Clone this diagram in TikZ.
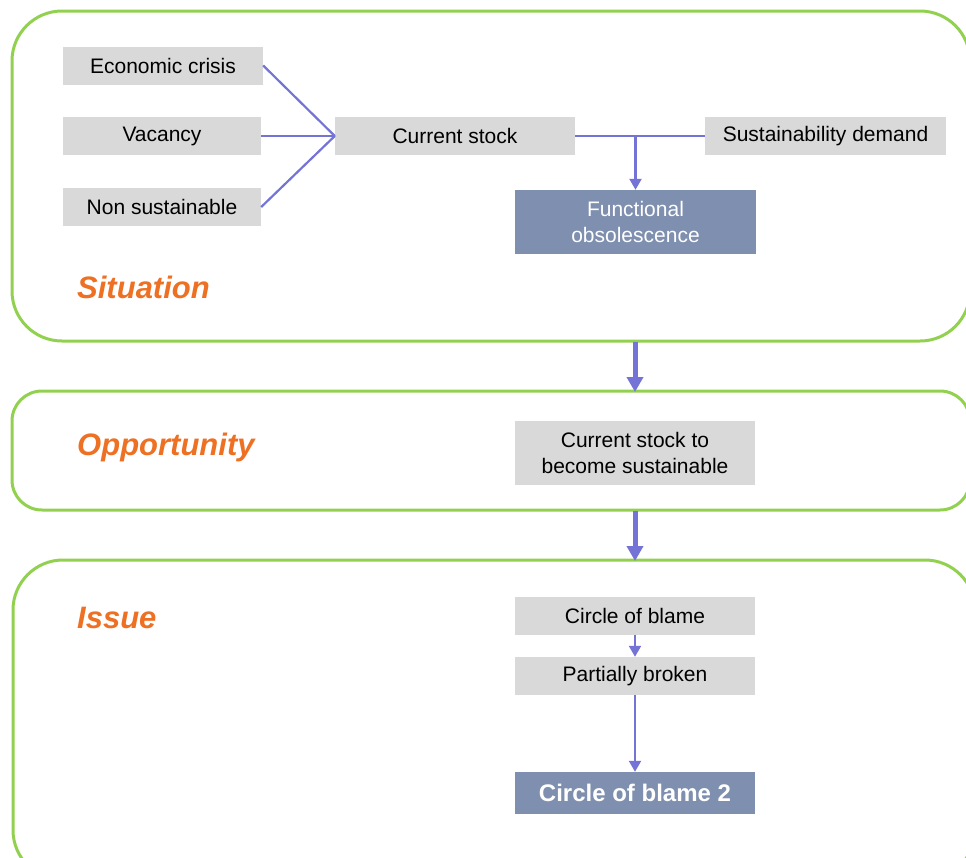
\documentclass[tikz,border=0pt]{standalone}
\usepackage{fontspec}
\setmainfont{Liberation Sans}
\usetikzlibrary{arrows.meta}
\definecolor{frame}{HTML}{92D050}
\definecolor{link}{HTML}{7474D6}
\definecolor{boxgray}{HTML}{D9D9D9}
\definecolor{boxblue}{HTML}{7F8FAF}
\definecolor{phase}{HTML}{EE7022}
\tikzset{
  panel/.style={draw=frame, line width=3pt, rounded corners=#1},
  graybox/.style={fill=boxgray, inner sep=0pt, align=center, text=black,
    font=\fontsize{21}{26}\selectfont},
  bluebox/.style={fill=boxblue, inner sep=0pt, align=center, text=white,
    font=\fontsize{21}{26}\selectfont},
  phaselabel/.style={anchor=west, text=phase, inner sep=0pt,
    font=\fontsize{31}{35}\selectfont\bfseries\itshape},
  thin link/.style={draw=link, line width=2.2pt},
  thin arrow/.style={thin link, -{Triangle[length=11pt,width=12pt]}},
  big arrow/.style={draw=link, line width=5pt, -{Triangle[length=15pt,width=16pt]}},
}
\begin{document}
\begin{tikzpicture}[x=1pt,y=-1pt]
\useasboundingbox (0,0) rectangle (966,857);
\clip (0,0) rectangle (966,857);

% phase panels
\draw[panel=50pt] (12,11) rectangle (970,341);
\draw[panel=30pt] (12,391) rectangle (970,510);
\draw[panel=50pt] (13,560) rectangle (975,880);

% phase titles
\node[phaselabel] (situation) at (77,287) {Situation};
\node[phaselabel] (opportunity) at (77,447) {Opportunity};
\node[phaselabel] (issue) at (77,618) {Issue};

% situation boxes
\node[graybox, minimum width=200pt, minimum height=38pt] (crisis) at (163,65.5) {Economic crisis};
\node[graybox, minimum width=198pt, minimum height=38pt] (vacancy) at (162,136) {Vacancy};
\node[graybox, minimum width=198pt, minimum height=38pt] (nonsust) at (162,207) {Non sustainable};
\node[graybox, minimum width=240pt, minimum height=38pt] (stock) at (455,136) {Current stock};
\node[graybox, minimum width=241pt, minimum height=38pt] (demand) at (825.5,136) {Sustainability demand};
\node[bluebox, minimum width=241pt, minimum height=64pt] (obsolete) at (635.5,222) {Functional\\obsolescence};

% opportunity box
\node[graybox, minimum width=240pt, minimum height=64pt] (tosust) at (635,453) {Current stock to\\become sustainable};

% issue boxes
\node[graybox, minimum width=240pt, minimum height=38pt] (blame) at (635,615.5) {Circle of blame};
\node[graybox, minimum width=240pt, minimum height=38pt] (broken) at (635,676) {Partially broken};
\node[bluebox, minimum width=240pt, minimum height=42pt,
      font=\fontsize{24}{28}\selectfont\bfseries] (blame2) at (635,793) {Circle of blame 2};

% situation connectors
\coordinate (join) at (stock.west);
\draw[thin link] (crisis.east) -- (join);
\draw[thin link] (vacancy.east) -- (join);
\draw[thin link] (nonsust.east) -- (join);
\draw[thin link] (stock.east) -- (demand.west);
\coordinate (split) at (obsolete.north |- stock.east);
\draw[thin arrow] (split) -- (obsolete.north);

% issue connectors
\draw[thin arrow] (blame.south) -- (broken.north);
\draw[thin arrow] (broken.south) -- (blame2.north);

% transitions between phases
\coordinate (s1) at (635,342);
\coordinate (o1) at (635,392);
\coordinate (o2) at (635,511);
\coordinate (i1) at (635,561);
\draw[big arrow] (s1) -- (o1);
\draw[big arrow] (o2) -- (i1);
\end{tikzpicture}
\end{document}
